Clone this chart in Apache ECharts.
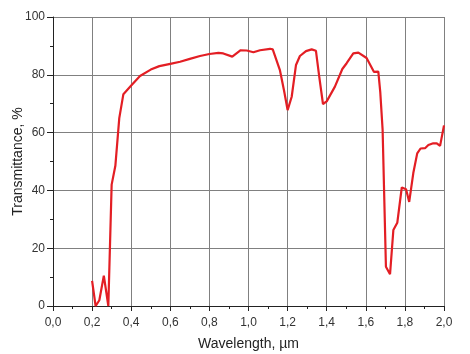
<!DOCTYPE html>
<html><head><meta charset="utf-8">
<script src="https://cdn.jsdelivr.net/npm/echarts@6/dist/echarts.min.js"></script>
<style>html,body{margin:0;padding:0;background:#fff}#c{width:470px;height:354px}</style>
</head><body><div id="c"></div>
<script>
const wavelength = [0.200,0.218,0.237,0.260,0.283,0.300,0.319,0.339,0.360,0.40,0.445,0.50,0.544,0.60,0.65,0.70,0.752,0.80,0.846,0.871,0.917,0.960,0.991,1.025,1.059,1.110,1.124,1.161,1.182,1.200,1.221,1.243,1.263,1.294,1.323,1.345,1.362,1.381,1.400,1.442,1.480,1.502,1.536,1.562,1.604,1.642,1.664,1.674,1.686,1.703,1.724,1.741,1.761,1.784,1.806,1.822,1.843,1.863,1.880,1.903,1.920,1.945,1.963,1.980,2.000];
const transmittance = [8.7,0,2,10.5,0,42,48.5,65,73.3,76.3,79.6,81.8,83,83.8,84.5,85.5,86.5,87.2,87.6,87.4,86.3,88.5,88.4,87.8,88.5,89,88.8,81.5,74.5,67.8,72.4,83.4,86.5,88.2,88.8,88.3,79.3,69.9,70.8,75.9,82,84,87.4,87.7,85.8,81,81.1,74,61,13.6,11,26.3,28.8,41,40.4,36,46,52.8,54.5,54.6,55.7,56.3,56.3,55.4,62.5];
const xTitle = 'Wavelength, µm';
const yTitle = 'Transmittance, %';

const chart = echarts.init(document.getElementById('c'));
const font = 'Liberation Sans, Arial, sans-serif';
chart.setOption({
  animation:false,
  grid:{left:53,right:26,top:17,bottom:48,containLabel:false,outerBoundsMode:'none'},
  xAxis:{type:'value',min:0,max:2,interval:0.2,
    name:xTitle,nameLocation:'middle',nameGap:31,nameMoveOverlap:false,
    nameTextStyle:{fontFamily:font,fontSize:14,color:'#222'},
    axisLine:{show:true,onZero:false,lineStyle:{color:'#222',width:1}},
    axisTick:{show:true,inside:false,length:5,lineStyle:{color:'#222'}},
    minorTick:{show:true,splitNumber:2,length:3,lineStyle:{color:'#222'}},
    axisLabel:{fontFamily:font,fontSize:12,color:'#333',margin:11,
      formatter:v=>v.toFixed(1).replace('.',',')},
    splitLine:{show:true,lineStyle:{color:'#808080',width:1}}},
  yAxis:{type:'value',min:0,max:100,interval:20,
    name:yTitle,nameLocation:'middle',nameGap:28,nameMoveOverlap:false,
    nameTextStyle:{fontFamily:font,fontSize:14,color:'#222'},
    axisLine:{show:true,onZero:false,lineStyle:{color:'#222',width:1}},
    axisTick:{show:true,inside:false,length:6,lineStyle:{color:'#222'}},
    minorTick:{show:true,splitNumber:2,length:3,lineStyle:{color:'#222'}},
    axisLabel:{fontFamily:font,fontSize:12,color:'#333',margin:8},
    splitLine:{show:true,lineStyle:{color:'#808080',width:1}}},
  series:[{type:'line',data:wavelength.map((w,i)=>[w,transmittance[i]]),
    showSymbol:false,symbol:'none',lineStyle:{color:'#e31e24',width:2.2},
    itemStyle:{color:'#e31e24'}}]
});
</script></body></html>
